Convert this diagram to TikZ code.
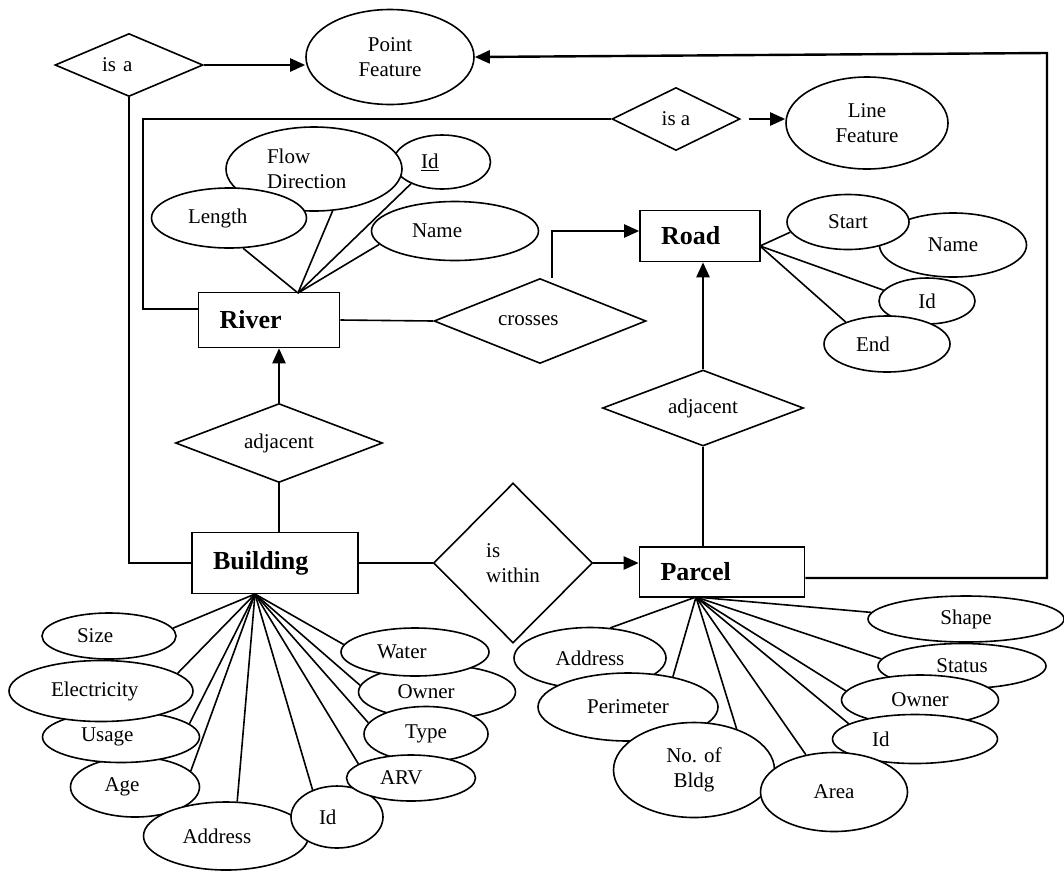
\documentclass[tikz,border=0pt]{standalone}
\usepackage{fontspec}
\setmainfont{Liberation Serif}
\usetikzlibrary{shapes,arrows.meta,backgrounds}

\begin{document}
\begin{tikzpicture}
    [x=1pt,y=-1pt,line width=1.6pt,
     every node/.style={font=\fontsize{21}{24.5}\selectfont, inner sep=0pt},
     entity/.style={draw, rectangle, align=left, inner xsep=21pt, font=\fontsize{26}{30}\selectfont\bfseries},
     attr/.style={draw, ellipse, fill=white, align=center},
     rel/.style={draw, diamond, shape aspect=2.3, align=center},
     link/.style={line width=1.6pt},
     arr/.style={-{Triangle[length=15pt,width=13pt]}, line width=2.4pt}]
  \useasboundingbox (0,0) rectangle (1064,871);

  % features
  \node[rel, text width=54pt, align=left, minimum width=148pt, minimum height=63pt] (isa1) at (129,65) {is a};
  \node[attr, minimum width=168pt, minimum height=95pt] (pointF) at (390,57) {Point\\Feature};
  \node[rel, minimum width=128pt, minimum height=63pt] (isa2) at (676,119) {is a};
  \node[attr, minimum width=162pt, minimum height=92pt] (lineF) at (867,123) {Line\\Feature};

  % entities
  \node[entity, text width=99pt, minimum height=55pt] (river) at (269,320) {River};
  \node[entity, text width=78pt, minimum height=51pt] (road) at (700,236) {Road};
  \node[entity, text width=124pt, minimum height=61pt] (building) at (275,563) {Building};
  \node[entity, text width=123pt, minimum height=50pt] (parcel) at (722,572) {Parcel};

  % relationships
  \node[rel, text width=84pt, align=left, minimum width=212pt, minimum height=85pt] (crosses) at (540,321) {crosses};
  \node[rel, minimum width=207pt, minimum height=79pt] (adjB) at (279,443) {adjacent};
  \node[rel, minimum width=201pt, minimum height=76pt] (adjP) at (703,408) {adjacent};
  \node[rel, shape aspect=1, align=left, minimum width=159pt, minimum height=160pt] (within) at (513,563) {is\\within};

  % river attributes
  \node[attr, text width=42pt, align=left, minimum width=97pt, minimum height=54pt] (rid) at (442,162) {\underline{Id}};
  \node[attr, text width=94pt, align=left, minimum width=176pt, minimum height=84pt] (flow) at (314,169) {Flow\\Direction};
  \node[attr, text width=82pt, align=left, minimum width=155pt, minimum height=60pt] (length) at (229,218) {Length};
  \node[attr, text width=86pt, align=left, minimum width=167pt, minimum height=59pt] (rname) at (455,231) {Name};

  % road attributes
  \node[attr, minimum width=147pt, minimum height=64pt] (roadname) at (953,245) {Name};
  \node[attr, minimum width=122pt, minimum height=55pt] (start) at (848,222) {Start};
  \node[attr, minimum width=96pt, minimum height=46pt] (roadid) at (927,301) {Id};
  \node[attr, text width=62pt, align=left, minimum width=126pt, minimum height=56pt] (end) at (887,344) {End};

  % building attributes
  \node[attr, text width=61pt, align=left, minimum width=129pt, minimum height=60pt] (age) at (135,787) {Age};
  \node[attr, text width=80pt, align=left, minimum width=157pt, minimum height=51pt] (usage) at (121,737) {Usage};
  \node[attr, text width=100pt, align=left, minimum width=184pt, minimum height=61pt] (elec) at (101,691) {Electricity};
  \node[attr, text width=64pt, align=left, minimum width=134pt, minimum height=46pt] (size) at (109,636) {Size};
  \node[attr, text width=87pt, align=left, minimum width=165pt, minimum height=68pt] (baddr) at (226,836) {Address};
  \node[attr, text width=36pt, align=left, minimum width=92pt, minimum height=62pt] (bid) at (337,817) {Id};
  \node[attr, text width=79pt, align=left, minimum width=157pt, minimum height=54pt] (bowner) at (437,692) {Owner};
  \node[attr, text width=76pt, align=left, minimum width=148pt, minimum height=48pt] (water) at (415,652) {Water};
  \node[attr, minimum width=124pt, minimum height=55pt] (type) at (426,734) {Type};
  \node[attr, text width=62pt, align=left, minimum width=129pt, minimum height=46pt] (arv) at (411,778) {ARV};

  % parcel attributes
  \node[attr, minimum width=196pt, minimum height=46pt] (pshape) at (966,619) {Shape};
  \node[attr, minimum width=168pt, minimum height=45pt] (pstatus) at (962,666) {Status};
  \node[attr, minimum width=157pt, minimum height=50pt] (powner) at (920,700) {Owner};
  \node[attr, text width=86pt, align=left, minimum width=165pt, minimum height=49pt] (pid) at (915,739) {Id};
  \node[attr, minimum width=152pt, minimum height=61pt] (paddr) at (590,658) {Address};
  \node[attr, minimum width=180pt, minimum height=68pt] (perim) at (628,707) {Perimeter};
  \node[attr, minimum width=161pt, minimum height=95pt] (nob) at (694,770) {No. of\\Bldg};
  \node[attr, minimum width=147pt, minimum height=79pt] (parea) at (834,792) {Area};

  \coordinate (rivertop) at (298,293);
  \coordinate (roadside) at (760,246);
  \coordinate (bldgfoot) at (255,594);
  \coordinate (parcelfoot) at (696,597);
  \coordinate (riverbend) at (143,309);
  \coordinate (crossbend) at (552,231);
  \coordinate (pcorner) at (1047,578);
  \coordinate (pfcorner) at (1047,53);

  \begin{scope}[on background layer]
  \foreach \to in {length.295, flow.294, rid.215, rname.190}
    \draw[link] (rivertop) -- (\to);
  \foreach \to in {start.190, roadid.166, end.152}
    \draw[link] (roadside) -- (\to);
  \foreach \to in {size.7, elec.13, usage.11, age.16, baddr.72, bid.132, arv.165, type.169, bowner.175, water.174}
    \draw[link] (bldgfoot) -- (\to);
  \foreach \to in {paddr.56, perim.34, nob.44, parea.127, pid.167, powner.173, pstatus.175, pshape.176}
    \draw[link] (parcelfoot) -- (\to);
  \end{scope}

  \draw[arr] (isa1.east) -- (isa1.east -| pointF.west);
  \draw[arr, shorten <=8pt] (isa2.east) -- (isa2.east -| lineF.west);
  \draw (isa2.west) -| (riverbend) -- (river.west |- riverbend);
  \draw (isa1.south) |- (building.west);
  \draw[arr] (parcel.east |- pcorner) -- (pcorner) -- (pfcorner) -- (pointF.east);
  \draw (river.east) -- (crosses.west);
  \draw[arr] (crossbend |- crosses.north) -- (crossbend) -- (crossbend -| road.west);
  \draw[arr] (adjB.north) -- (adjB.north |- river.south);
  \draw (adjB.south) -- (adjB.south |- building.north);
  \draw[arr] (adjP.north) -- (adjP.north |- road.south);
  \draw (adjP.south) -- (adjP.south |- parcel.north);
  \draw (building.east) -- (within.west);
  \draw[arr] (within.east) -- (within.east -| parcel.west);
\end{tikzpicture}
\end{document}
